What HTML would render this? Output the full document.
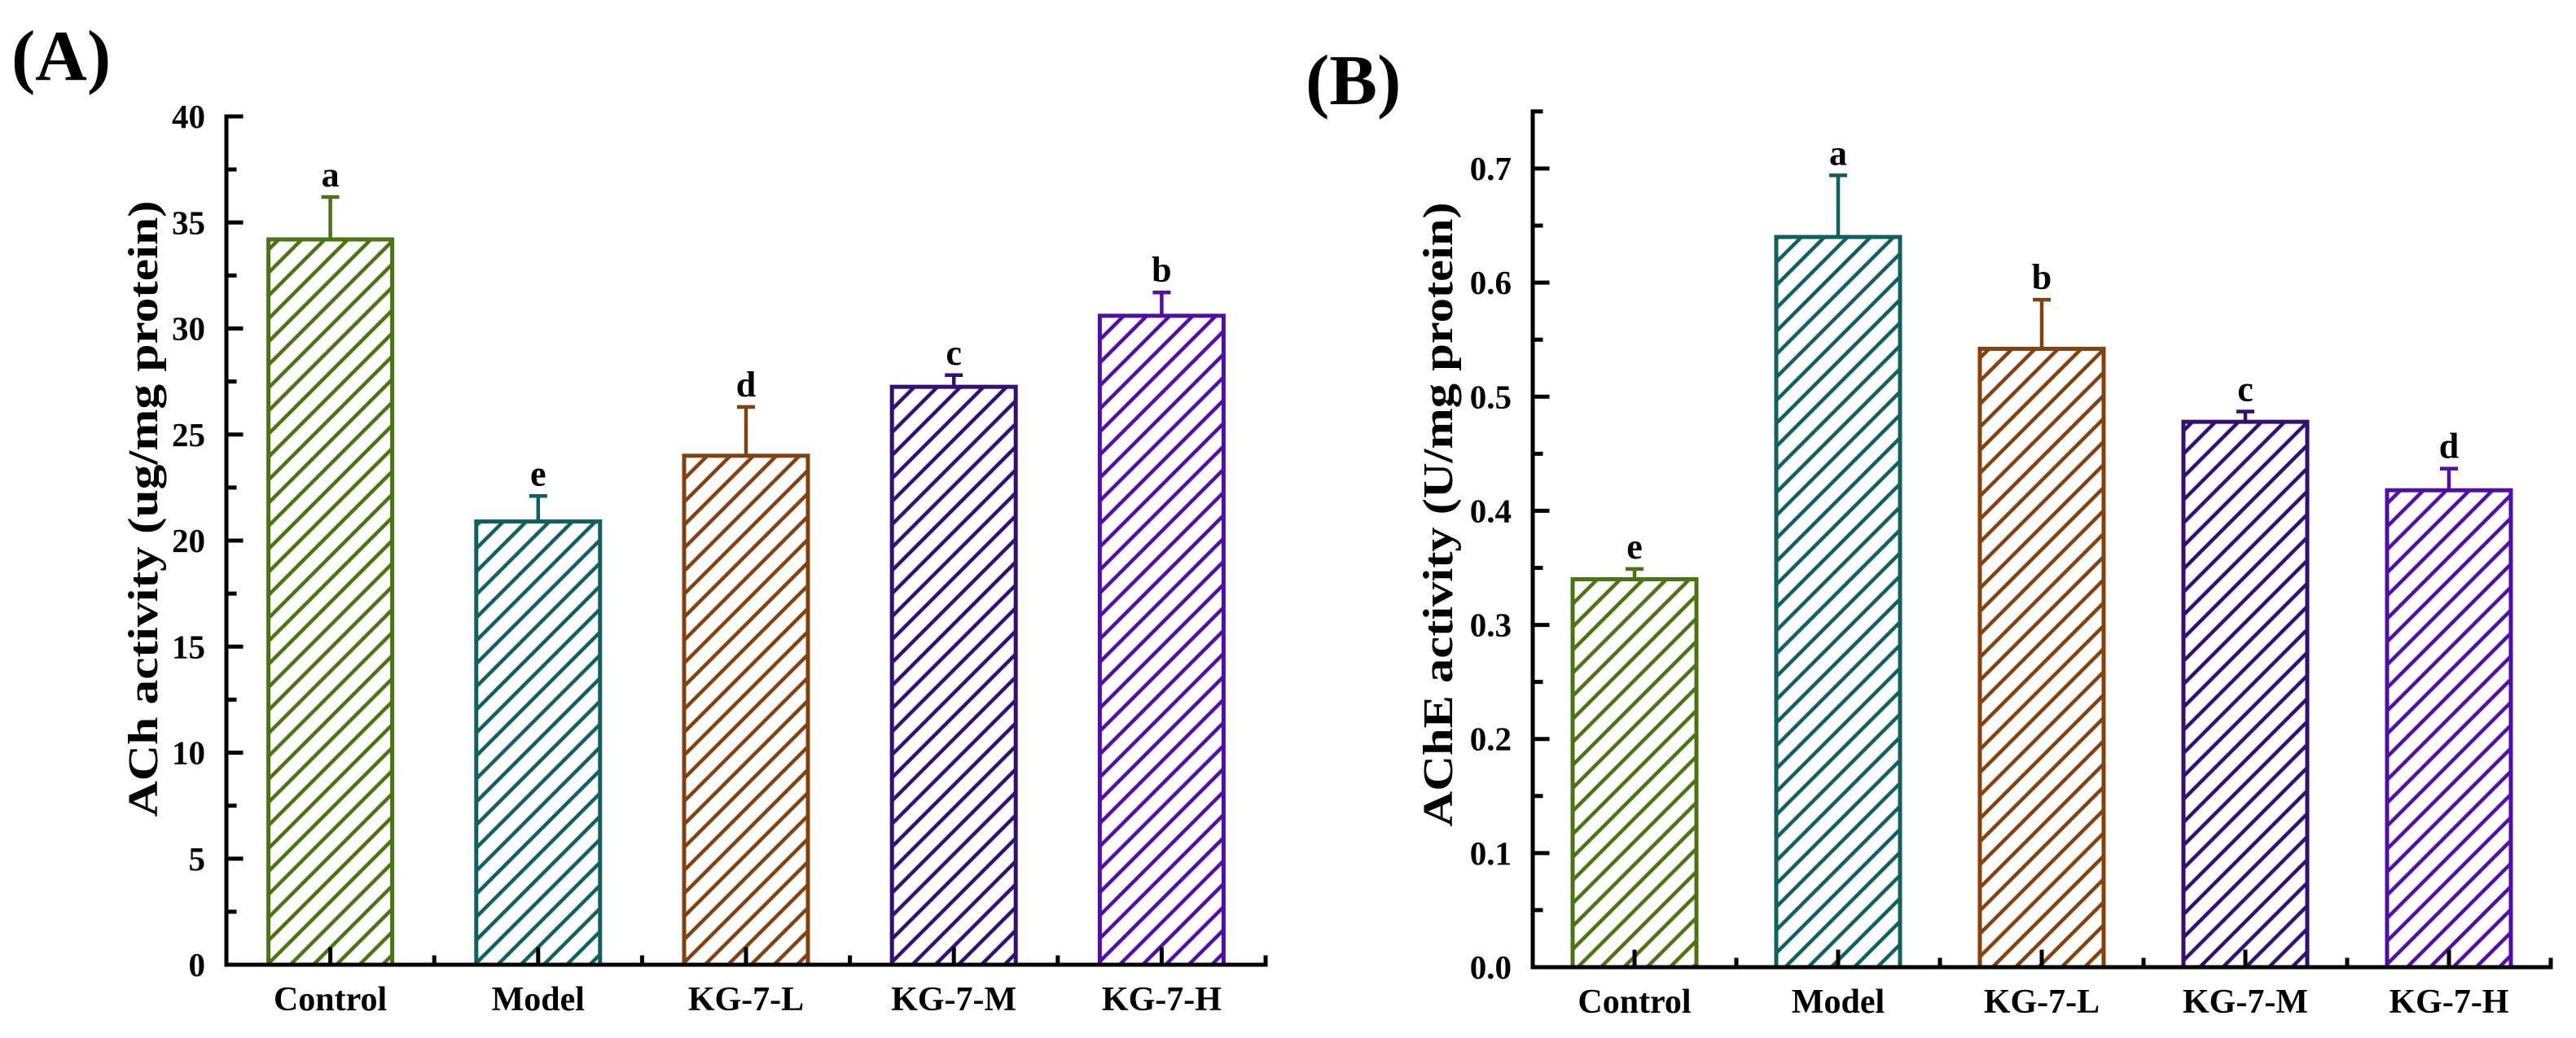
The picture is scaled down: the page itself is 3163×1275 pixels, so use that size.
<!DOCTYPE html>
<html><head><meta charset="utf-8"><style>
html,body{margin:0;padding:0;background:#fff;}
svg{display:block;}
text{font-family:"Liberation Serif",serif;font-weight:bold;fill:#000;}
</style></head><body>
<svg id="fig" width="3163" height="1275" viewBox="0 0 3163 1275" xmlns="http://www.w3.org/2000/svg">
<defs id="defs"></defs>
<text x="14" y="98" font-size="88">(A)</text>
<text x="1603" y="128" font-size="88">(B)</text>
<g id="panelA"></g>
<g id="panelB"></g>
</svg>
<script>
const categories = ["Control","Model","KG-7-L","KG-7-M","KG-7-H"];
const colors = ["#4b7214","#135f5f","#7f4210","#32106e","#4f10a2"];
const achValues = [34.2, 20.9, 24.0, 27.25, 30.6];
const achErrors = [2.0, 1.2, 2.3, 0.55, 1.1];
const achLetters = ["a","e","d","c","b"];
const achTicks = [0,5,10,15,20,25,30,35,40];
const acheValues = [0.340, 0.640, 0.542, 0.478, 0.418];
const acheErrors = [0.009, 0.054, 0.043, 0.009, 0.019];
const acheLetters = ["e","a","b","c","d"];
const acheTicks = ["0.0","0.1","0.2","0.3","0.4","0.5","0.6","0.7"];

const NS="http://www.w3.org/2000/svg";
function mk(tag, attrs, parent){const e=document.createElementNS(NS,tag);for(const k in attrs)e.setAttribute(k,attrs[k]);parent.appendChild(e);return e;}
const defs=document.getElementById('defs');
colors.forEach((c,i)=>{
  const p=mk('pattern',{id:'hatch'+i,patternUnits:'userSpaceOnUse',width:20,height:20,patternTransform:'rotate(45)'},defs);
  mk('line',{x1:10,y1:-2,x2:10,y2:22,stroke:c,'stroke-width':4.5},p);
});

function drawPanel(g, cfg){
  const {x0,x1,yBot,yTop,vMax,values,errors,letters,ticks,tickVals,minorStep,title,titleX,titleY,titleLen,axisTopVal}=cfg;
  const band=(x1-x0)/categories.length;
  const y=v=>yBot-(v/vMax)*(yBot-yTop);
  const xc=i=>x0+band*(i+0.5);
  const bw=152;
  values.forEach((v,i)=>{
    const bar=mk('rect',{x:xc(i)-bw/2,y:y(v),width:bw,height:yBot-y(v),fill:'url(#hatch'+i+')',stroke:colors[i],'stroke-width':5},g);
    
    
    const eb=mk('path',{d:`M${xc(i)},${y(v)} V${y(v+errors[i])} M${xc(i)-11},${y(v+errors[i])} H${xc(i)+11}`,stroke:colors[i],'stroke-width':4.5,fill:'none'},g);
    
    
    const t=mk('text',{x:xc(i),y:y(v+errors[i])-13,'font-size':44,'text-anchor':'middle'},g);
    t.textContent=letters[i];
    
    
    const cl=mk('text',{x:xc(i),y:yBot+56,'font-size':42,'text-anchor':'middle'},g);
    cl.textContent=categories[i];
    
    
  });
  let d=`M${x0},${y(axisTopVal)} V${yBot} H${x1}`;
  for(let i=0;i<categories.length;i++){d+=` M${xc(i)},${yBot} v-19 M${x0+band*(i+1)},${yBot} v-9`;}
  for(let v=0; v<=axisTopVal+1e-9; v+=minorStep){
    const major=Math.abs(Math.round(v/(minorStep*2))*(minorStep*2)-v)<1e-9;
    d+=` M${x0},${y(v)} h${major?18:10}`;
  }
  const ax=mk('path',{d:d,stroke:'#000','stroke-width':5,fill:'none','stroke-linecap':'square'},g);
  
  
  ticks.forEach((lab,i)=>{
    const t=mk('text',{x:x0-26,y:y(tickVals[i])+14,'font-size':41,'text-anchor':'end'},g);
    t.textContent=lab;
    
    
  });
  const tt=mk('text',{x:titleX,y:titleY,'font-size':52,'text-anchor':'middle',textLength:titleLen,lengthAdjust:'spacingAndGlyphs',transform:`rotate(-90 ${titleX} ${titleY})`},g);
  tt.textContent=title;
  
  
}

drawPanel(document.getElementById('panelA'),{
  x0:278,x1:1554,yBot:1185,yTop:143,vMax:40,values:achValues,errors:achErrors,letters:achLetters,
  ticks:achTicks.map(String),tickVals:achTicks,minorStep:2.5,title:"ACh activity (ug/mg protein)",titleX:193,titleY:625,titleLen:757,axisTopVal:40
});
drawPanel(document.getElementById('panelB'),{
  x0:1882,x1:3132,yBot:1188,yTop:207,vMax:0.7,values:acheValues,errors:acheErrors,letters:acheLetters,
  ticks:acheTicks,tickVals:acheTicks.map(Number),minorStep:0.05,title:"AChE activity (U/mg protein)",titleX:1783,titleY:632,titleLen:767,axisTopVal:0.75
});
</script>
</body></html>
